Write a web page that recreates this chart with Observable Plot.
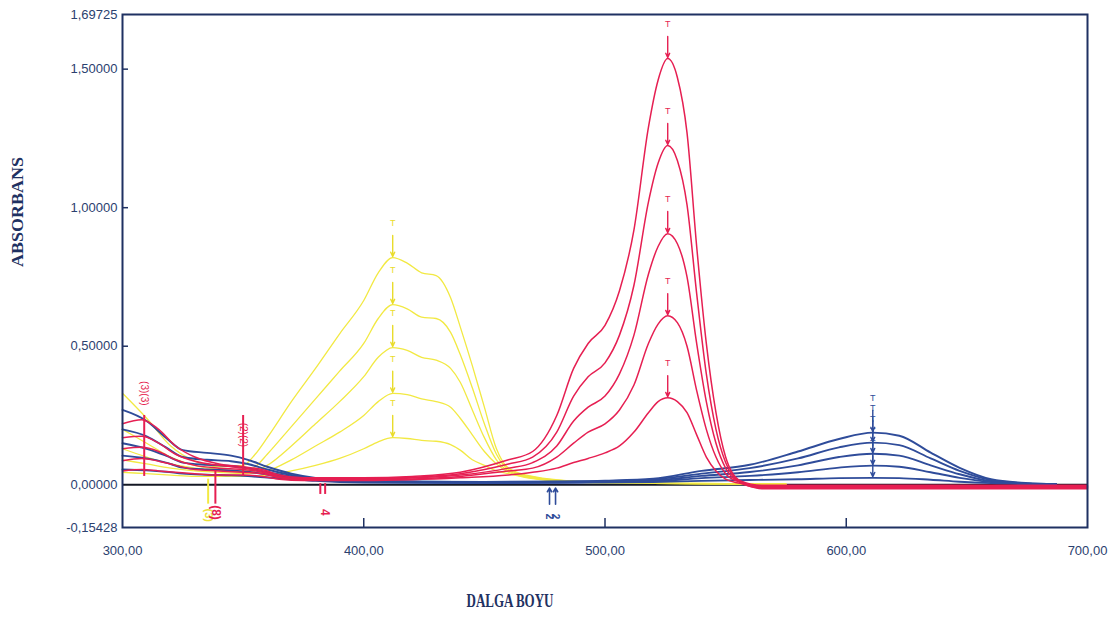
<!DOCTYPE html>
<html>
<head>
<meta charset="utf-8">
<script src="https://cdn.jsdelivr.net/npm/d3@7"></script>
<script src="https://cdn.jsdelivr.net/npm/@observablehq/plot@0.6"></script>
<style>
  html, body { margin: 0; padding: 0; background: #fff; overflow: hidden; }
  #chart svg { display: block; }
</style>
</head>
<body>
<div id="chart"></div>
<script>
// Axis ticks
const xTicks = [300, 400, 500, 600, 700];
const yTicks = [-0.15428, 0, 0.5, 1, 1.5, 1.69725];

// Yellow spectra (band near 412 nm)
const yellowNm = [300, 310, 320, 330, 340, 350, 355, 360, 370, 380, 390, 400, 406, 412, 418, 424, 430, 436, 440, 445, 450, 455, 460, 470, 490, 520, 550, 575];
const yellow1 = [0.33, 0.24, 0.14, 0.085, 0.065, 0.07, 0.11, 0.17, 0.30, 0.42, 0.545, 0.665, 0.765, 0.82, 0.80, 0.765, 0.755, 0.675, 0.57, 0.43, 0.28, 0.13, 0.06, 0.03, 0.012, 0.006, 0.004, 0.002];
const yellow2 = [0.20, 0.15, 0.10, 0.07, 0.055, 0.05, 0.065, 0.11, 0.21, 0.31, 0.41, 0.51, 0.60, 0.65, 0.635, 0.605, 0.60, 0.55, 0.47, 0.35, 0.22, 0.11, 0.055, 0.028, 0.011, 0.006, 0.004, 0.002];
const yellow3 = [0.13, 0.10, 0.075, 0.06, 0.05, 0.045, 0.05, 0.07, 0.14, 0.22, 0.30, 0.39, 0.46, 0.495, 0.485, 0.46, 0.45, 0.42, 0.37, 0.27, 0.17, 0.09, 0.05, 0.026, 0.01, 0.005, 0.003, 0.002];
const yellow4 = [0.09, 0.075, 0.06, 0.05, 0.045, 0.04, 0.042, 0.05, 0.09, 0.14, 0.19, 0.25, 0.30, 0.33, 0.325, 0.31, 0.30, 0.28, 0.24, 0.18, 0.12, 0.075, 0.045, 0.024, 0.01, 0.005, 0.003, 0.002];
const yellow5 = [0.045, 0.04, 0.035, 0.03, 0.03, 0.03, 0.032, 0.035, 0.05, 0.07, 0.095, 0.13, 0.155, 0.17, 0.167, 0.16, 0.157, 0.145, 0.125, 0.09, 0.07, 0.05, 0.04, 0.022, 0.009, 0.005, 0.003, 0.002];

// Red spectra (band near 526 nm, shoulder near 495 nm)
const redNm = [300, 308, 315, 322, 330, 340, 350, 358, 365, 375, 400, 420, 440, 460, 470, 480, 487, 493, 500, 506, 512, 518, 522, 526, 530, 534, 538, 542, 546, 550, 556, 565, 600, 650, 700];
const red1 = [0.22, 0.235, 0.20, 0.14, 0.10, 0.075, 0.065, 0.055, 0.035, 0.025, 0.025, 0.03, 0.045, 0.09, 0.12, 0.25, 0.42, 0.51, 0.575, 0.70, 0.92, 1.29, 1.46, 1.538, 1.47, 1.27, 0.86, 0.51, 0.26, 0.10, 0.015, -0.002, -0.002, -0.002, -0.002];
const red2 = [0.17, 0.175, 0.15, 0.11, 0.085, 0.07, 0.06, 0.05, 0.03, 0.022, 0.022, 0.027, 0.04, 0.075, 0.10, 0.19, 0.32, 0.39, 0.44, 0.54, 0.72, 1.02, 1.16, 1.224, 1.17, 1.01, 0.69, 0.40, 0.20, 0.08, 0.012, -0.005, -0.005, -0.005, -0.005];
const red3 = [0.13, 0.135, 0.12, 0.09, 0.07, 0.06, 0.055, 0.045, 0.028, 0.02, 0.02, 0.024, 0.035, 0.06, 0.08, 0.14, 0.23, 0.28, 0.32, 0.40, 0.54, 0.76, 0.86, 0.906, 0.87, 0.75, 0.51, 0.30, 0.15, 0.06, 0.01, -0.008, -0.008, -0.008, -0.008];
const red4 = [0.087, 0.095, 0.085, 0.07, 0.055, 0.05, 0.045, 0.04, 0.025, 0.018, 0.018, 0.021, 0.03, 0.05, 0.06, 0.10, 0.15, 0.19, 0.22, 0.27, 0.36, 0.51, 0.58, 0.61, 0.585, 0.50, 0.34, 0.20, 0.10, 0.04, 0.008, -0.011, -0.011, -0.011, -0.011];
const red5 = [0.05, 0.055, 0.05, 0.045, 0.04, 0.035, 0.035, 0.03, 0.02, 0.015, 0.015, 0.018, 0.025, 0.035, 0.045, 0.06, 0.08, 0.095, 0.115, 0.14, 0.19, 0.26, 0.30, 0.314, 0.30, 0.26, 0.18, 0.10, 0.05, 0.02, 0.005, -0.014, -0.014, -0.014, -0.014];

// Blue spectra (broad band near 611 nm)
const blueNm = [300, 310, 318, 325, 335, 345, 352, 360, 370, 380, 400, 450, 480, 500, 520, 540, 560, 580, 597, 611, 622, 635, 647, 660, 675, 687];
const blue1 = [0.27, 0.23, 0.17, 0.125, 0.115, 0.105, 0.09, 0.065, 0.04, 0.025, 0.015, 0.01, 0.012, 0.015, 0.022, 0.05, 0.072, 0.12, 0.165, 0.188, 0.177, 0.116, 0.061, 0.02, 0.006, 0.003];
const blue2 = [0.20, 0.175, 0.135, 0.10, 0.09, 0.085, 0.075, 0.055, 0.035, 0.022, 0.013, 0.009, 0.011, 0.013, 0.019, 0.04, 0.06, 0.095, 0.135, 0.152, 0.143, 0.095, 0.05, 0.017, 0.005, 0.003];
const blue3 = [0.15, 0.13, 0.105, 0.08, 0.072, 0.068, 0.06, 0.045, 0.03, 0.02, 0.012, 0.008, 0.01, 0.012, 0.016, 0.032, 0.046, 0.07, 0.10, 0.112, 0.105, 0.07, 0.038, 0.013, 0.004, 0.002];
const blue4 = [0.105, 0.095, 0.08, 0.062, 0.055, 0.052, 0.047, 0.037, 0.025, 0.017, 0.01, 0.007, 0.008, 0.01, 0.013, 0.024, 0.032, 0.045, 0.062, 0.069, 0.065, 0.045, 0.025, 0.01, 0.004, 0.002];
const blue5 = [0.055, 0.052, 0.047, 0.04, 0.036, 0.034, 0.031, 0.026, 0.02, 0.014, 0.008, 0.006, 0.007, 0.008, 0.01, 0.014, 0.017, 0.02, 0.024, 0.025, 0.024, 0.018, 0.011, 0.006, 0.003, 0.002];

// Peak-pick positions (nm)
const yellowPeakNm = 412;
const redPeakNm = 526;
const bluePeakNm = 611;

// Peak-pick tags drawn by the instrument software
const upperTagNm = [309, 350];
const upperTagText = ["(3)(3)", "(2)(2)"];
const yellowLowTagNm = [335.5];
const yellowLowTagText = ["(3)"];
const redLowTagNm = [338.5, 382, 384];
const redLowTagText = ["(8)", "", "4"];
const blueLowTagNm = [477, 479.5];
const blueLowTagText = ["2", "2"];

const YELLOW = "#f2e943";
const RED = "#e61f52";
const BLUE = "#2f4c9a";
const NAVY = "#1f3162";
const LABEL = "#2b416f";

const fmtX = d => d.toFixed(2).replace(".", ",");
const fmtY = d => d.toFixed(5).replace(".", ",");

function rows(nm, family, name) {
  return family.flatMap((vals, i) => vals.map((a, j) => ({nm: nm[j], a, series: name + (i + 1)})));
}
function peaks(nm, family, at) {
  const j = nm.indexOf(at);
  return family.map(v => ({nm: at, a: v[j]}));
}
function tags(nm, text) {
  return nm.map((n, i) => ({nm: n, text: text[i]}));
}

const yellowFamily = [yellow1, yellow2, yellow3, yellow4, yellow5];
const redFamily = [red1, red2, red3, red4, red5];
const blueFamily = [blue1, blue2, blue3, blue4, blue5];

const yellowRows = rows(yellowNm, yellowFamily, "Y");
const redRows = rows(redNm, redFamily, "R");
const blueRows = rows(blueNm, blueFamily, "B");

const yellowPeaks = peaks(yellowNm, yellowFamily, yellowPeakNm);
const redPeaks = peaks(redNm, redFamily, redPeakNm);
const bluePeaks = peaks(blueNm, blueFamily, bluePeakNm);

const yMin = yTicks[0], yMax = yTicks[yTicks.length - 1];
const innerTicksY = yTicks.filter(v => v > 0 && v < yMax);

function peakMarks(data, color) {
  return [
    Plot.arrow(data, {x1: "nm", x2: "nm", y1: d => d.a + 0.08, y2: d => d.a + 0.004,
      stroke: color, strokeWidth: 1.4, headLength: 5, headAngle: 50}),
    Plot.text(data, {x: "nm", y: d => d.a + 0.125, text: () => "T", fill: color,
      fontSize: 9, fontFamily: "Liberation Sans"})
  ];
}

const chart = Plot.plot({
  width: 1108,
  height: 621,
  marginLeft: 122,
  marginRight: 21,
  marginTop: 14,
  marginBottom: 94,
  style: {fontFamily: "Liberation Sans, Arial, sans-serif", fontSize: "13px", color: LABEL, background: "#fff"},
  x: {domain: [300, 700], label: null},
  y: {domain: [yMin, yMax], label: null},
  marks: [
    Plot.ruleY([0], {stroke: "#141824", strokeWidth: 2}),
    Plot.line(yellowRows, {x: "nm", y: "a", z: "series", stroke: YELLOW, strokeWidth: 1.3, curve: "monotone-x"}),
    Plot.line(blueRows, {x: "nm", y: "a", z: "series", stroke: BLUE, strokeWidth: 1.9, curve: "monotone-x"}),
    Plot.line(redRows, {x: "nm", y: "a", z: "series", stroke: RED, strokeWidth: 1.5, curve: "monotone-x"}),
    ...peakMarks(yellowPeaks, "#e9dc2c"),
    ...peakMarks(redPeaks, RED),
    ...peakMarks(bluePeaks, BLUE),

    // tags above the short-wavelength curves
    Plot.ruleX(upperTagNm, {y1: 0.03, y2: 0.25, stroke: RED, strokeWidth: 2}),
    Plot.text(tags(upperTagNm, upperTagText), {x: "nm", y: (d, i) => i === 0 ? 0.33 : 0.18, text: "text",
      rotate: 90, fill: RED, fontSize: 10}),

    // tags hanging below the baseline
    Plot.ruleX(yellowLowTagNm, {y1: 0.02, y2: -0.07, stroke: YELLOW, strokeWidth: 2}),
    Plot.text(tags(yellowLowTagNm, yellowLowTagText), {x: "nm", y: -0.11, text: "text", rotate: 90, fill: "#ece03a", fontSize: 11, fontWeight: "bold"}),
    Plot.ruleX(redLowTagNm, {y1: d => d > 360 ? 0.004 : 0.05, y2: d => d > 360 ? -0.035 : -0.07, stroke: RED, strokeWidth: 2}),
    Plot.text(tags(redLowTagNm, redLowTagText), {x: "nm", y: -0.1, text: "text", rotate: 90, fill: RED, fontSize: 12, fontWeight: "bold"}),
    Plot.arrow(blueLowTagNm, {x1: d => d, x2: d => d, y1: -0.07, y2: -0.012, stroke: BLUE, strokeWidth: 1.6, headLength: 4}),
    Plot.text(tags(blueLowTagNm, blueLowTagText), {x: "nm", y: -0.115, text: "text", rotate: 90, fill: BLUE, fontSize: 10, fontWeight: "bold"}),

    // inward tick marks
    Plot.ruleX(xTicks.slice(1, -1), {y1: yMin, y2: yMin + 9 / 276.9, stroke: NAVY, strokeWidth: 1.5}),
    Plot.ruleY(innerTicksY, {x1: 300, x2: 300 + 6 / 2.4125, stroke: NAVY, strokeWidth: 1.5}),
    Plot.frame({stroke: NAVY, strokeWidth: 2}),

    Plot.axisX({ticks: xTicks, tickFormat: fmtX, tickSize: 0, tickPadding: 18, label: null}),
    Plot.axisY({ticks: yTicks, tickFormat: fmtY, tickSize: 0, tickPadding: 5, label: null}),

    Plot.text(["ABSORBANS"], {frameAnchor: "left", dx: -105, dy: -4, rotate: -90, fill: NAVY,
      fontFamily: "Liberation Serif, serif", fontSize: 17, fontWeight: "bold"}),
    Plot.text(["DALGA BOYU"], {frameAnchor: "bottom", dx: -95, dy: 79, fill: NAVY,
      fontFamily: "Liberation Serif, serif", fontSize: 18, fontWeight: "bold"})
  ]
});

d3.select(chart).selectAll("text")
  .filter(function() { return this.textContent === "DALGA BOYU"; })
  .attr("textLength", 87).attr("lengthAdjust", "spacingAndGlyphs");
d3.select(chart).selectAll("text")
  .filter(function() { return this.textContent === "ABSORBANS"; })
  .attr("textLength", 110).attr("lengthAdjust", "spacingAndGlyphs");

document.getElementById("chart").appendChild(chart);
</script>
</body>
</html>
